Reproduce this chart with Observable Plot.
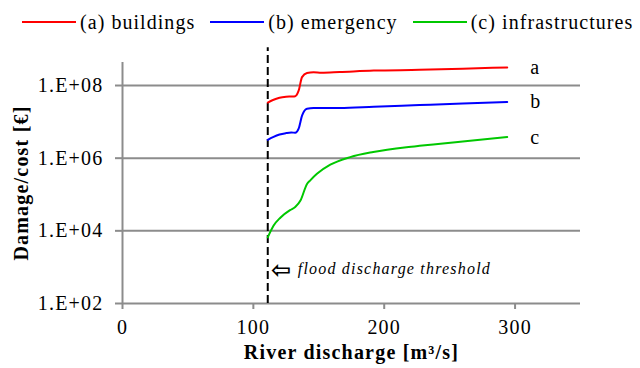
<!DOCTYPE html>
<html>
<head>
<meta charset="utf-8">
<script src="https://cdn.jsdelivr.net/npm/d3@7"></script>
<script src="https://cdn.jsdelivr.net/npm/@observablehq/plot@0.6"></script>
<style>
  html, body { margin: 0; padding: 0; background: white; }
  #wrap { width: 640px; height: 368px; position: relative; overflow: hidden; font-family: "Liberation Serif", LiberationSerif, Tinos, "DejaVu Serif", "Noto Serif", Times, serif; }
  #legend { height: 36px; box-sizing: border-box; padding: 7px 0 0 22px; display: flex; align-items: center; gap: 15px;
            font-size: 20px; line-height: 22px; letter-spacing: 1.05px; color: black; }
  .item { display: flex; align-items: center; gap: 4px; white-space: nowrap; }
  .sw { width: 54px; height: 2px; }
  #chart svg text { letter-spacing: 1.2px; }
  #chart svg g[aria-label="annotation"] text { letter-spacing: 0; }
  #chart svg g[aria-label="x-axis label"] text, #chart svg g[aria-label="y-axis label"] text { font-weight: bold; }
</style>
</head>
<body>
<div id="wrap">
  <div id="legend"></div>
  <div id="chart"></div>
</div>
<script>
// ---- data ----
const seriesNames = ["(a) buildings", "(b) emergency", "(c) infrastructures"];
const seriesTags = ["a", "b", "c"];
const seriesColors = ["#ff0000", "#0000ff", "#00c800"];

const dischargeA = [111, 115, 120, 125, 129, 132, 134.6, 137.2, 141, 146, 152, 166, 192, 227, 260, 294];
const damageA    = [3.4e7, 4.0e7, 4.6e7, 4.9e7, 5.0e7, 5.1e7, 7.2e7, 1.7e8, 2.2e8, 2.3e8, 2.25e8, 2.35e8, 2.57e8, 2.7e8, 2.9e8, 3.15e8];

const dischargeB = [111, 115, 120, 125, 129, 132, 134.6, 137.2, 141, 146, 152, 166, 192, 227, 260, 294];
const damageB    = [3.2e6, 3.8e6, 4.5e6, 4.9e6, 5.1e6, 5.0e6, 6.5e6, 1.48e7, 2.3e7, 2.4e7, 2.4e7, 2.4e7, 2.6e7, 2.9e7, 3.2e7, 3.5e7];

const dischargeC = [111, 115.5, 120.6, 128, 132, 136, 141, 143.5, 148.6, 158.8, 174, 191.6, 217, 227, 243, 260, 294];
const damageC    = [6.6e3, 1.4e4, 2.3e4, 3.7e4, 4.5e4, 6.8e4, 1.95e5, 2.45e5, 3.7e5, 6.6e5, 1.07e6, 1.48e6, 2.0e6, 2.19e6, 2.5e6, 2.88e6, 3.8e6];

const xTicks = [0, 100, 200, 300];
const yTicks = [1e2, 1e4, 1e6, 1e8];
const gridLevels = [1e4, 1e6, 1e8];

const threshold = 111;
const thresholdSpan = [1e2, 1.1e9];
const annotationLevel = 880;
const annotationText = "flood discharge threshold";
const annotationArrow = "⇦";

const xLabel = "River discharge [m³/s]";
const yLabel = "Damage/cost [€]";

// ---- build tables ----
const allX = [dischargeA, dischargeB, dischargeC];
const allY = [damageA, damageB, damageC];
const rows = [];
const ends = [];
allX.forEach((xs, i) => {
  xs.forEach((q, j) => rows.push({q, v: allY[i][j], s: seriesNames[i]}));
  ends.push({q: xs[xs.length - 1], v: allY[i][allY[i].length - 1], tag: seriesTags[i]});
});
const thresholdRow = [{q: threshold, lo: thresholdSpan[0], hi: thresholdSpan[1]}];
const annotRow = [{q: threshold, v: annotationLevel}];

// ---- legend ----
const legend = document.getElementById("legend");
seriesNames.forEach((n, i) => {
  const it = document.createElement("div");
  it.className = "item";
  const sw = document.createElement("div");
  sw.className = "sw";
  sw.style.background = seriesColors[i];
  const tx = document.createElement("span");
  tx.textContent = n;
  it.appendChild(sw); it.appendChild(tx);
  legend.appendChild(it);
});

const GRAY = "#8c8c8c";
const FONT = "'Liberation Serif', LiberationSerif, Tinos, 'DejaVu Serif', 'Noto Serif', Times, serif";
const fmt = d => "1.E+" + String(Math.round(Math.log10(d))).padStart(2, "0");

const chart = Plot.plot({
  width: 640,
  height: 332,
  marginLeft: 122,
  marginRight: 60,
  marginTop: 26,
  marginBottom: 65,
  style: {fontFamily: FONT, fontSize: "20px", color: "black", background: "white", overflow: "visible"},
  x: {domain: [0, 350]},
  y: {type: "log", domain: [1e2, 4.3e8]},
  color: {domain: seriesNames, range: seriesColors},
  marks: [
    Plot.ruleY(gridLevels, {stroke: GRAY, strokeWidth: 2}),
    Plot.ruleY([1e2], {stroke: GRAY, strokeWidth: 2}),
    Plot.ruleX([0], {stroke: GRAY, strokeWidth: 2}),
    Plot.axisX({ticks: xTicks, tickSize: 6, tickPadding: 10, stroke: GRAY, strokeWidth: 2, fill: "black",
                label: xLabel, labelAnchor: "center", labelArrow: "none", labelOffset: 55}),
    Plot.axisY({ticks: yTicks, tickFormat: fmt, tickSize: 7, tickPadding: 12, stroke: GRAY, strokeWidth: 2, fill: "black",
                label: yLabel, labelAnchor: "center", labelArrow: "none", labelOffset: 109}),
    Plot.ruleX(thresholdRow, {x: "q", y1: "lo", y2: "hi", stroke: "black", strokeWidth: 2, strokeDasharray: "8,4"}),
    Plot.line(rows, {x: "q", y: "v", z: "s", stroke: "s", strokeWidth: 2, curve: "monotone-x"}),
    Plot.text(ends, {x: "q", y: "v", text: "tag", dx: 23, textAnchor: "start", fill: "black"}),
    Plot.text(annotRow, {x: "q", y: "v", text: () => annotationArrow, dx: 14, dy: 1, fontFamily: "DejaVu Sans", fontSize: 24, fontWeight: "bold", fill: "black", ariaLabel: "annotation"}),
    Plot.text(annotRow, {x: "q", y: "v", text: () => annotationText, dx: 30, textAnchor: "start", fontStyle: "italic", fontSize: 16, fill: "black", ariaLabel: "annotation"})
  ]
});
document.getElementById("chart").appendChild(chart);
</script>
</body>
</html>
